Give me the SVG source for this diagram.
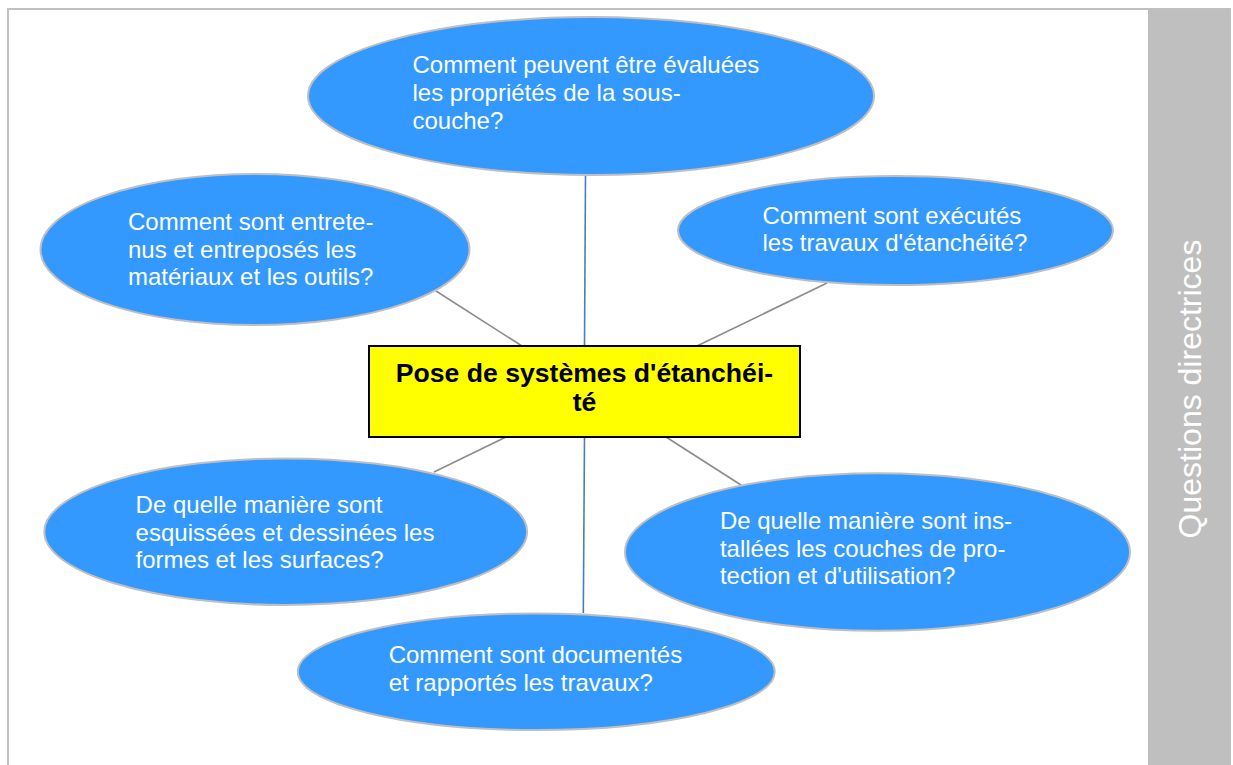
<svg xmlns="http://www.w3.org/2000/svg" width="1233" height="765" viewBox="0 0 1233 765">
<style>
.frame{fill:#ffffff;stroke:#c0c0c0;stroke-width:2}
.bar{fill:#bfbfbf}
.bubble{fill:#3399ff;stroke:#bfbfbf;stroke-width:2}
.q{font-family:"Liberation Sans",Arial,sans-serif;font-size:24px;fill:#ffffff}
.center{fill:#ffff00;stroke:#000000;stroke-width:2}
.ct{font-family:"Liberation Sans",Arial,sans-serif;font-size:26.6px;font-weight:bold;fill:#000000;text-anchor:middle}
.side{font-family:"Liberation Sans",Arial,sans-serif;font-size:32px;fill:#ffffff;text-anchor:middle}
.blue{stroke:#4a7ebb;stroke-width:1.6;fill:none}
.gray{stroke:#8c8c8c;stroke-width:1.6;fill:none}
</style>
<rect width="1233" height="765" fill="#ffffff"/>
<rect class="frame" x="8" y="9" width="1222" height="780"/>
<g id="sidebar">
<rect class="bar" x="1148" y="10" width="82" height="760"/>
<text class="side" transform="translate(1201,389) rotate(-90)">Questions directrices</text>
</g>
<g id="connectors">
<line class="blue" x1="585.5" y1="175" x2="584.5" y2="346"/>
<line class="blue" x1="584.5" y1="437" x2="583.3" y2="613"/>
<line class="gray" x1="436" y1="291" x2="522" y2="346"/>
<line class="gray" x1="827" y1="283" x2="697" y2="346"/>
<line class="gray" x1="506" y1="437" x2="434" y2="472"/>
<line class="gray" x1="666" y1="437" x2="741" y2="485"/>
</g>
<g id="node-top">
<ellipse class="bubble" cx="591" cy="96" rx="283" ry="79"/>
<text class="q" x="412.5"><tspan x="412.5" y="73">Comment peuvent être évaluées</tspan><tspan x="412.5" y="100.5">les propriétés de la sous-</tspan><tspan x="412.5" y="128.5">couche?</tspan></text>
</g>
<g id="node-left">
<ellipse class="bubble" cx="255" cy="249.5" rx="214.5" ry="75.5"/>
<text class="q"><tspan x="128" y="230">Comment sont entrete-</tspan><tspan x="128" y="257.5">nus et entreposés les</tspan><tspan x="128" y="285">matériaux et les outils?</tspan></text>
</g>
<g id="node-right">
<ellipse class="bubble" cx="895.5" cy="230.5" rx="217.5" ry="54.5"/>
<text class="q"><tspan x="762.5" y="223.5">Comment sont exécutés</tspan><tspan x="762.5" y="251">les travaux d'étanchéité?</tspan></text>
</g>
<g id="node-center">
<rect class="center" x="369" y="346" width="431" height="91"/>
<text class="ct"><tspan x="584.5" y="381.5">Pose de systèmes d'étanchéi-</tspan><tspan x="584.5" y="411">té</tspan></text>
</g>
<g id="node-bottom-left">
<ellipse class="bubble" cx="285.7" cy="531.7" rx="241.4" ry="73.3"/>
<text class="q"><tspan x="135.6" y="513">De quelle manière sont</tspan><tspan x="135.6" y="540.5">esquissées et dessinées les</tspan><tspan x="135.6" y="568">formes et les surfaces?</tspan></text>
</g>
<g id="node-bottom-right">
<ellipse class="bubble" cx="877.5" cy="552" rx="252.5" ry="78.8"/>
<text class="q"><tspan x="719.9" y="529">De quelle manière sont ins-</tspan><tspan x="719.9" y="556.5">tallées les couches de pro-</tspan><tspan x="719.9" y="584">tection et d'utilisation?</tspan></text>
</g>
<g id="node-bottom">
<ellipse class="bubble" cx="536.3" cy="671.7" rx="238.5" ry="58.3"/>
<text class="q"><tspan x="388.7" y="663">Comment sont documentés</tspan><tspan x="388.7" y="691">et rapportés les travaux?</tspan></text>
</g>
</svg>
